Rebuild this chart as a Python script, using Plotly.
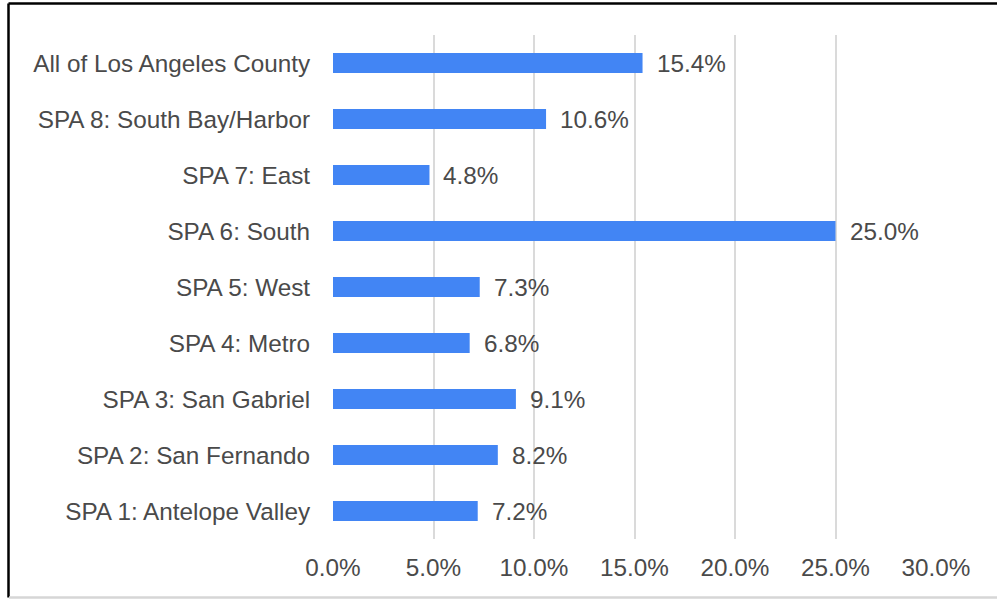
import plotly.graph_objects as go

categories = [
    "SPA 1: Antelope Valley",
    "SPA 2: San Fernando",
    "SPA 3: San Gabriel",
    "SPA 4: Metro",
    "SPA 5: West",
    "SPA 6: South",
    "SPA 7: East",
    "SPA 8: South Bay/Harbor",
    "All of Los Angeles County",
]
values = [7.2, 8.2, 9.1, 6.8, 7.3, 25.0, 4.8, 10.6, 15.4]
value_labels = ["7.2%", "8.2%", "9.1%", "6.8%", "7.3%", "25.0%", "4.8%", "10.6%", "15.4%"]
tick_vals = [0, 5, 10, 15, 20, 25, 30]
tick_text = ["0.0%", "5.0%", "10.0%", "15.0%", "20.0%", "25.0%", "30.0%"]

FONT = "Liberation Sans, Arial, sans-serif"
TXT = "#4a4a4a"
FS = 24.3

fig = go.Figure(
    go.Bar(
        x=values,
        y=categories,
        orientation="h",
        marker=dict(color="#4285F4", line=dict(width=0)),
        width=0.36,
        hoverinfo="skip",
    )
)

for c, v, t in zip(categories, values, value_labels):
    fig.add_annotation(
        x=v, y=c, text=t, showarrow=False, xanchor="left", yanchor="middle",
        xshift=12, font=dict(family=FONT, size=FS, color=TXT),
    )

L, R, T, B = 333, 61, 35, 61
W, H = 997, 600
pw, ph = W - L - R, H - T - B

def px(x):
    return (x - L) / pw

def py(y):
    return (H - B - y) / ph

# outer frame
fig.add_shape(type="line", xref="paper", yref="paper", x0=px(8.5), x1=px(1000),
              y0=py(3.5), y1=py(3.5), line=dict(color="#000000", width=2.5))
fig.add_shape(type="line", xref="paper", yref="paper", x0=px(8.5), x1=px(8.5),
              y0=py(3.5), y1=py(597.5), line=dict(color="#000000", width=2.5))
fig.add_shape(type="line", xref="paper", yref="paper", x0=px(9), x1=px(1000),
              y0=py(597.5), y1=py(597.5), line=dict(color="#d6d6d6", width=2.5))

fig.update_layout(
    width=W, height=H,
    margin=dict(l=L, r=R, t=T, b=B, pad=0),
    paper_bgcolor="white", plot_bgcolor="white",
    showlegend=False,
    font=dict(family=FONT, size=FS, color=TXT),
    xaxis=dict(
        range=[0, 30], tickvals=tick_vals, ticktext=tick_text,
        showgrid=True, gridcolor="#dadada", gridwidth=1.5,
        zeroline=False, showline=False,
        ticks="outside", ticklen=7, tickcolor="rgba(0,0,0,0)",
        tickfont=dict(family=FONT, size=FS, color=TXT),
        fixedrange=True,
    ),
    yaxis=dict(
        range=[-0.5, 8.5], showgrid=False, zeroline=False, showline=False,
        ticks="outside", ticklen=17, tickcolor="rgba(0,0,0,0)",
        tickfont=dict(family=FONT, size=FS, color=TXT),
        fixedrange=True,
    ),
)

fig.write_html(
    "out.html",
    config={"displayModeBar": False},
    post_script="document.body.style.margin='0';document.body.style.padding='0';",
)
